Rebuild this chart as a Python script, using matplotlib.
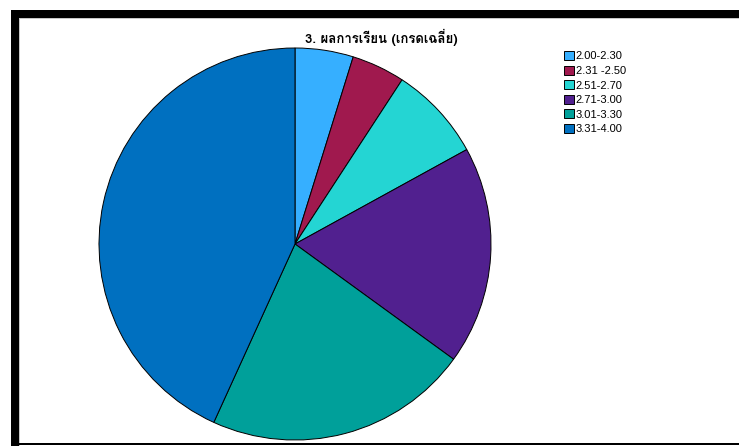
import matplotlib
matplotlib.use("Agg")
import matplotlib.pyplot as plt
from matplotlib import font_manager
from matplotlib.patches import Rectangle, Patch

# ---- data ----
categories = ["2.00-2.30", "2.31 -2.50", "2.51-2.70", "2.71-3.00", "3.01-3.30", "3.31-4.00"]
values = [4.8, 4.4, 7.8, 18.0, 21.8, 43.2]
colors = ["#36AFFF", "#A0194E", "#24D5D3", "#51208F", "#00A09A", "#0070C0"]
title = "3. ผลการเรียน (เกรดเฉลี่ย)"

# ---- find a font with Thai glyphs ----
thai_family = None
try:
    from fontTools.ttLib import TTFont
    for fe in font_manager.fontManager.ttflist:
        try:
            f = TTFont(fe.fname, fontNumber=0, lazy=True)
            cmap = f.getBestCmap()
            if cmap and 0x0E1C in cmap and 0x0E40 in cmap:
                thai_family = fe.name
                break
        except Exception:
            pass
except Exception:
    pass

W, H = 739, 446
fig = plt.figure(figsize=(W / 100, H / 100), dpi=100)
fig.patch.set_facecolor("white")

def fx(px):
    return px / W

def fy(py):
    return 1 - py / H

# border: thick black left/top, thin bottom
fig.add_artist(Rectangle((fx(11), fy(446)), fx(8), 436 / H, transform=fig.transFigure,
                         facecolor="black", edgecolor="none"))
fig.add_artist(Rectangle((fx(11), fy(18)), 1 - fx(11), 8 / H, transform=fig.transFigure,
                         facecolor="black", edgecolor="none"))
fig.add_artist(Rectangle((fx(19), fy(19)), 1 - fx(19), 1 / H, transform=fig.transFigure,
                         facecolor="#C8C8C8", edgecolor="none"))
fig.add_artist(Rectangle((fx(19), fy(446)), fx(1), 427 / H, transform=fig.transFigure,
                         facecolor="#C8C8C8", edgecolor="none"))
fig.add_artist(Rectangle((fx(19), fy(445)), 1 - fx(19), 2 / H, transform=fig.transFigure,
                         facecolor="black", edgecolor="none"))

# pie axes: center (295,244), radius 196 px
cx, cy, r = 295, 244, 196
ax = fig.add_axes([fx(cx - r), fy(cy + r), 2 * r / W, 2 * r / H])
ax.pie(values, colors=colors, startangle=90, counterclock=False, radius=1,
       wedgeprops=dict(edgecolor="black", linewidth=0.7))
ax.set_xlim(-1, 1)
ax.set_ylim(-1, 1)
ax.set_aspect("auto")
ax.axis("off")

# title
tfam = [thai_family, "DejaVu Sans"] if thai_family else ["DejaVu Sans"]
fig.text(fx(381), fy(37), title, ha="center", va="center", fontsize=9.5,
         fontweight="bold", family=tfam)

# legend
handles = [Patch(facecolor=c, edgecolor="black", linewidth=0.7) for c in colors]
leg = fig.legend(handles, categories, loc="upper left",
                 bbox_to_anchor=(fx(564), fy(51)), frameon=False,
                 prop={"family": "Liberation Sans", "size": 8},
                 handlelength=0.9, handleheight=0.9, handletextpad=0.15,
                 labelspacing=0.37, borderpad=0, borderaxespad=0)

fig.savefig("out.png", dpi=100)
